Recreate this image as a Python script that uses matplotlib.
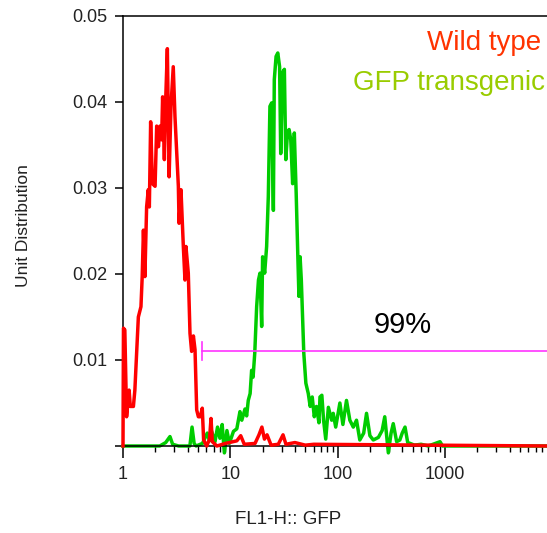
import matplotlib
matplotlib.use('Agg')
import matplotlib.pyplot as plt
from matplotlib.ticker import LogLocator, NullFormatter, FixedLocator

plt.rcParams['font.family'] = ['Liberation Sans', 'DejaVu Sans']

# --- data ---
wt_x = [1.0, 1.01, 1.04, 1.08, 1.14, 1.17, 1.25, 1.29, 1.39, 1.47, 1.51, 1.55,
        1.60, 1.66, 1.72, 1.76, 1.81, 1.88, 1.99, 2.06, 2.14, 2.21, 2.29, 2.34,
        2.43, 2.50, 2.59, 2.69, 2.80, 2.94, 3.05, 3.28, 3.33, 3.47, 3.65, 3.78,
        3.86, 4.06, 4.21, 4.36, 4.53, 4.69, 4.86, 5.04, 5.25, 5.48, 5.64, 6.03,
        6.40, 6.61, 6.80, 7.5, 9.0, 11.5, 12.5, 13.5, 17.0, 18.5, 19.7, 20.8,
        22.0, 24.0, 28.0, 31.0, 33.0, 40.0, 50.0, 60.0, 9000.0]
wt_y = [0.0, 0.0137, 0.0135, 0.0034, 0.0065, 0.0046, 0.0046, 0.0065, 0.0150,
        0.0162, 0.0197, 0.0251, 0.0197, 0.0278, 0.0298, 0.0278, 0.0377, 0.0305,
        0.0302, 0.0372, 0.0348, 0.0372, 0.0356, 0.0406, 0.0333, 0.0403, 0.0462,
        0.0313, 0.0395, 0.0441, 0.0383, 0.0302, 0.0259, 0.0298, 0.0232, 0.0193,
        0.0232, 0.0201, 0.0131, 0.0110, 0.0128, 0.0112, 0.0042, 0.0034, 0.0034,
        0.0044, 0.0007, 0.0, 0.0008, 0.0032, 0.0005, 0.0, 0.0003, 0.0006, 0.0012,
        0.0002, 0.0003, 0.0013, 0.0022, 0.0008, 0.0013, 0.0001, 0.0002, 0.0013,
        0.0002, 0.0004, 0.0001, 0.0002, 0.0]

gfp_x = [1.0, 2.2, 2.5, 2.74, 2.9, 3.3, 4.2, 4.4, 4.6, 4.8, 5.5, 6.1, 6.4, 6.7,
         7.2, 7.6, 8.0, 8.4, 8.8, 9.3, 9.8, 10.7, 11.5, 12.3, 12.8, 13.7, 14.2,
         14.7, 15.3, 15.8, 16.3, 16.9, 17.6, 18.3, 18.9, 19.6, 20.0, 20.9, 21.8,
         22.6, 23.4, 24.3, 25.2, 25.7, 26.7, 27.7, 28.8, 29.5, 30.6, 31.9, 32.9,
         34.1, 35.3, 36.6, 38.1, 39.5, 41.1, 42.6, 43.6, 44.7, 45.9, 48.4, 50.6,
         53.3, 55.5, 58.0, 60.6, 63.5, 67.0, 68.5, 71.3, 74.0, 77.5, 82.0, 88.0,
         91.0, 96.0, 105.0, 112.0, 121.0, 130.0, 140.0, 150.0, 161.0, 175.0,
         186.0, 200.0, 215.0, 240.0, 260.0, 275.0, 297.0, 315.0, 330.0, 355.0,
         380.0, 400.0, 425.0, 450.0, 474.0, 520.0, 600.0, 700.0, 900.0, 950.0,
         9000.0]
gfp_y = [0.0, 0.0, 0.0004, 0.0011, 0.0002, 0.0, 0.0, 0.0022, 0.0003, 0.0,
         0.0003, 0.0015, 0.0006, 0.0017, 0.0005, 0.0022, 0.0009, 0.0025, -0.0008,
         0.0018, 0.0003, 0.0017, 0.0020, 0.0040, 0.0030, 0.0043, 0.0035, 0.0053,
         0.0061, 0.0088, 0.0080, 0.0108, 0.0162, 0.0193, 0.0201, 0.0139, 0.0220,
         0.0201, 0.0232, 0.0290, 0.0395, 0.0399, 0.0274, 0.0426, 0.0453, 0.0457,
         0.0441, 0.0340, 0.0434, 0.0438, 0.0333, 0.0364, 0.0368, 0.0356, 0.0305,
         0.0364, 0.0294, 0.0220, 0.0174, 0.0220, 0.0193, 0.0108, 0.0073, 0.0061,
         0.0046, 0.0057, 0.0034, 0.0046, 0.0027, 0.0057, 0.0059, 0.0030, 0.0008,
         0.0045, 0.0030, 0.0038, 0.0022, 0.0050, 0.0025, 0.0053, 0.0030, 0.0022,
         0.0030, 0.0007, 0.0015, 0.0038, 0.0012, 0.0007, 0.0010, 0.0018, 0.0034,
         -0.0008, 0.0015, 0.0026, 0.0005, 0.0007, 0.0015, 0.0022, 0.0004, 0.0003,
         0.0001, 0.0002, 0.0, 0.0005, 0.0, 0.0]

gate_start = 5.45      # left end of the marker bar
gate_level = 0.01105
gate_label = '99%'

y_ticks = [0.0, 0.01, 0.02, 0.03, 0.04, 0.05]
y_labels = ['', '0.01', '0.02', '0.03', '0.04', '0.05']
x_ticks = [1, 10, 100, 1000]
x_labels = ['1', '10', '100', '1000']

# --- figure ---
fig = plt.figure(figsize=(5.47, 5.33), dpi=100)
ax = fig.add_axes([123/547, 87/533, 424/547, 430/533])
ax.set_xscale('log')
ax.set_xlim(1, 8940)
ax.set_ylim(0, 0.05)

ax.plot(wt_x, wt_y, color='#ff0000', lw=2.5, zorder=3, clip_on=False)
ax.plot(gfp_x, gfp_y, color='#00cc00', lw=2.5, zorder=2, clip_on=False)

# gate marker
ax.plot([gate_start, 8940], [gate_level, gate_level], color='#ff33ff', lw=1.2, zorder=4)
ax.plot([gate_start, gate_start], [gate_level - 0.00105, gate_level + 0.00105],
        color='#ff33ff', lw=1.2, zorder=4)
ax.text(403, 0.01314, gate_label, ha='center', va='baseline', fontsize=21,
        family=['Liberation Sans Narrow', 'Liberation Sans'], color='black')

# axes styling
ax.spines['right'].set_visible(False)
for s in ['left', 'bottom', 'top']:
    ax.spines[s].set_linewidth(1.1)
ax.set_yticks(y_ticks)
ax.set_yticklabels(y_labels)
ax.xaxis.set_major_locator(FixedLocator(x_ticks))
ax.set_xticklabels(x_labels)
ax.xaxis.set_minor_locator(LogLocator(base=10, subs=range(2, 10), numticks=20))
ax.xaxis.set_minor_formatter(NullFormatter())
ax.tick_params(axis='y', direction='out', length=6, width=1.1, pad=5,
               labelsize=13, labelcolor='#222222')
ax.tick_params(axis='x', which='major', direction='out', length=8.5, width=1.1,
               pad=6, labelsize=13, labelcolor='#222222')
ax.tick_params(axis='x', which='minor', direction='out', length=4.3, width=1.0)

fig.text(288/547, 1 - 520/533, 'FL1-H:: GFP', ha='center', va='center',
         fontsize=13.5, color='#222222')
fig.text(24/547, 1 - 226/533, 'Unit Distribution', ha='center', va='center',
         rotation=90, fontsize=12.5, color='#222222')

fig.text(541/547, 1 - 50/533, 'Wild type', ha='right', va='baseline',
         fontsize=20, color='#ff3300')
fig.text(545/547, 1 - 90/533, 'GFP transgenic', ha='right', va='baseline',
         fontsize=20, color='#99cc00')

fig.savefig('out.png', dpi=100)
plt.close(fig)
